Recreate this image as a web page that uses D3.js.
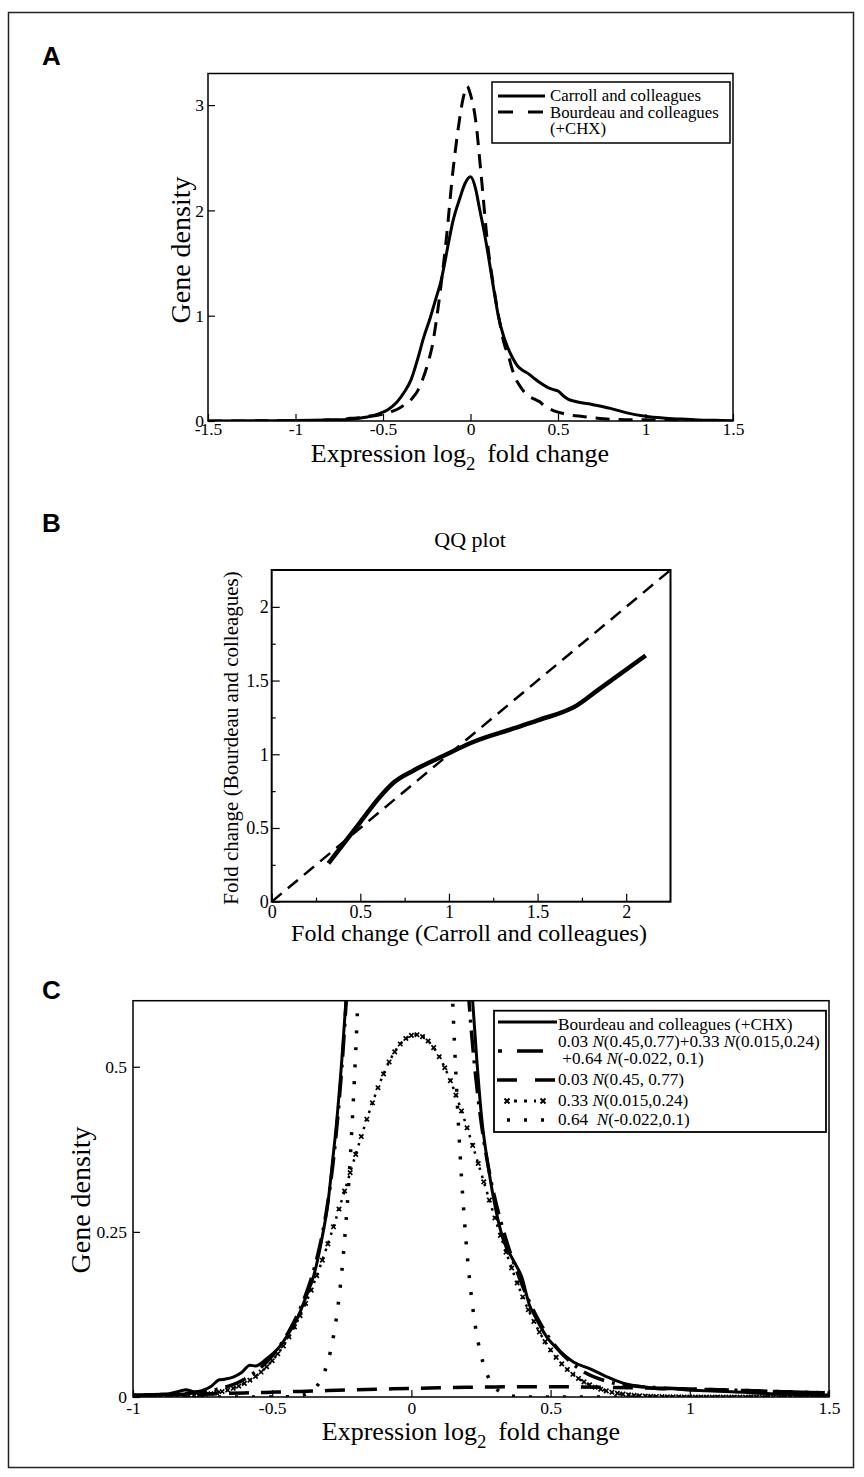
<!DOCTYPE html>
<html><head><meta charset="utf-8">
<script src="https://cdn.jsdelivr.net/npm/d3@7"></script>
<style>body{margin:0;background:#fff}</style>
</head><body>
<svg id="chart" width="864" height="1477" xmlns="http://www.w3.org/2000/svg"></svg>
<script>
// ---------------- DATA ----------------
// Panel A: densities of log2 fold change
const carrollX = [-1.5,-1.2,-1.0,-0.9,-0.8,-0.7,-0.6,-0.52,-0.47,-0.42,-0.38,-0.34,-0.3,-0.27,-0.23,-0.2,-0.17,-0.12,-0.1,-0.06,-0.03,0,0.03,0.05,0.08,0.1,0.13,0.16,0.19,0.21,0.24,0.27,0.3,0.33,0.36,0.4,0.44,0.47,0.5,0.53,0.56,0.6,0.7,0.8,0.9,1.0,1.1,1.2,1.3,1.4,1.5];
const carrollY = [0.0,0.002,0.004,0.006,0.01,0.015,0.035,0.07,0.11,0.18,0.27,0.39,0.6,0.78,0.98,1.15,1.32,1.74,1.9,2.12,2.26,2.32,2.2,2.03,1.78,1.59,1.28,0.99,0.8,0.71,0.6,0.52,0.48,0.45,0.41,0.36,0.32,0.30,0.285,0.24,0.205,0.185,0.155,0.12,0.075,0.045,0.028,0.018,0.01,0.006,0.003];
const bourdeauX = [-1.5,-1.3,-1.1,-1.0,-0.95,-0.9,-0.87,-0.83,-0.81,-0.78,-0.75,-0.72,-0.69,-0.67,-0.64,-0.61,-0.58,-0.56,-0.52,-0.48,-0.44,-0.41,-0.38,-0.35,-0.32,-0.30,-0.285,-0.27,-0.25,-0.235,-0.22,-0.2,-0.17,-0.14,-0.1,-0.07,-0.04,-0.02,0,0.03,0.06,0.1,0.13,0.16,0.19,0.22,0.235,0.252,0.276,0.306,0.33,0.366,0.396,0.426,0.438,0.486,0.534,0.582,0.64,0.70,0.76,0.84,0.90,0.94,0.98,1.06,1.15,1.29,1.5];
const bourdeauY = [0.001,0.001,0.002,0.003,0.003,0.004,0.005,0.009,0.011,0.008,0.010,0.016,0.026,0.027,0.030,0.037,0.048,0.047,0.058,0.073,0.097,0.119,0.150,0.185,0.243,0.293,0.35,0.41,0.51,0.60,0.70,0.90,1.27,1.70,2.38,2.78,3.08,3.18,3.1,2.85,2.35,1.65,1.30,1.00,0.75,0.60,0.51,0.424,0.349,0.278,0.238,0.207,0.182,0.137,0.127,0.091,0.069,0.053,0.043,0.031,0.021,0.015,0.012,0.013,0.011,0.0095,0.008,0.005,0.003];
const xTicksA = [-1.5,-1,-0.5,0,0.5,1,1.5];
const yTicksA = [0,1,2,3];

// Panel B: QQ plot
const qqX = [0.32,0.5,0.61,0.69,0.8,0.97,1.14,1.365,1.5,1.72,1.84,2.11];
const qqY = [0.26,0.54,0.71,0.81,0.89,0.99,1.085,1.175,1.23,1.33,1.435,1.67];
const refX = [0,2.25];
const refY = [0,2.25];
const ticksB = [0,0.5,1,1.5,2];
const minorB = [0.25,0.75,1.25,1.75];

// Panel C: mixture fit
const comp1X = [-1.0,-0.9,-0.8,-0.7,-0.6,-0.5,-0.4,-0.3,-0.2,-0.1,0,0.1,0.2,0.3,0.4,0.5,0.6,0.7,0.8,0.9,1.0,1.1,1.2,1.3,1.4,1.5];
const comp1Y = [0.0026,0.0033,0.0042,0.0051,0.0061,0.0073,0.0085,0.0097,0.0109,0.0120,0.0131,0.0140,0.0147,0.0153,0.0155,0.0155,0.0153,0.0147,0.0140,0.0131,0.0120,0.0109,0.0097,0.0085,0.0073,0.0061];
// 0.33 N(0.015,0.24) sampled every 0.02 from -1 to 1.5
const comp2Y = [0,0,0.0001,0.0002,0.0003,0.0004,0.0005,0.0007,0.001,0.0013,
  0.0017,0.0023,0.003,0.0039,0.005,0.0065,0.0083,0.0105,0.0132,0.0166,
  0.0206,0.0254,0.0311,0.0378,0.0458,0.0549,0.0654,0.0774,0.0910,0.1062,
  0.1230,0.1416,0.1618,0.1837,0.2071,0.2318,0.2577,0.2846,0.3119,0.3397,
  0.3673,0.3943,0.4206,0.4454,0.4683,0.4891,0.5073,0.5225,0.5344,0.5428,
  0.5475,0.5485,0.5456,0.5390,0.5289,0.5152,0.4985,0.4790,0.4571,0.4331,
  0.4076,0.3809,0.3535,0.3258,0.2982,0.2711,0.2447,0.2193,0.1953,0.1726,
  0.1515,0.1321,0.1144,0.0983,0.0839,0.0712,0.0600,0.0501,0.0416,0.0344,
  0.0281,0.0229,0.0185,0.0148,0.0118,0.0093,0.0073,0.0057,0.0044,0.0034,
  0.0026,0.0020,0.0015,0.0011,0.0008,0.0006,0.0004,0.0003,0.0002,0.0001,
  0,0,0,0,0,0,0,0,0,0,0,0,0,0,0,0,0,0,0,0,0,0,0,0,0,0];
const comp2X = comp2Y.map((v, i) => +(-1 + i * 0.02).toFixed(2));
// 0.64 N(-0.022,0.1)
const comp3Y = [0,0.0001,0.0002,0.0004,0.0009,0.0020,0.0042,0.0084,0.0163,0.0301,0.0536,0.0916,0.1504,0.2372,0.3596,0.5236,0.7328,0.9853,1.2731,1.5797,1.8835,2.1580,2.3752,2.5121,2.5527,2.4922,2.3377,2.1067,1.8243,1.5176,1.2130,0.9317,0.6873,0.4874,0.3319,0.2173,0.1366,0.0825,0.0479,0.0267,0.0143,0.0074,0.0036,0.0017,0.0008,0.0003,0.0001,0,0];
const comp3X = [-1].concat(d3.range(47).map(i => +(-0.48 + i * 0.02).toFixed(2)), [1.5]);
// mixture sum
const mixX = [-1.0,-0.9,-0.8,-0.7,-0.6,-0.5,-0.48,-0.46,-0.44,-0.42,-0.40,-0.38,-0.36,-0.34,-0.32,-0.30,-0.28,-0.26,-0.24,-0.22,-0.20,-0.18,-0.16,-0.14,-0.12,-0.10,-0.08,-0.06,-0.04,-0.02,0,0.02,0.04,0.06,0.08,0.10,0.12,0.14,0.16,0.18,0.20,0.22,0.24,0.26,0.28,0.30,0.32,0.34,0.36,0.38,0.40,0.42,0.44,0.46,0.48,0.50,0.6,0.7,0.8,0.9,1.0,1.1,1.2,1.3,1.4,1.5];
const mixY = [0.0027,0.0037,0.0059,0.0116,0.0267,0.0622,0.0729,0.0853,0.0994,0.1153,0.1335,0.1545,0.1791,0.2092,0.2466,0.2951,0.3592,0.4452,0.5595,0.7099,0.9018,1.1382,1.4172,1.7301,2.0598,2.3846,2.6776,2.9102,3.0592,3.1084,3.0528,2.8995,2.6658,2.3770,2.0604,1.7422,1.4444,1.1806,0.9590,0.7796,0.6396,0.5323,0.4509,0.3887,0.3400,0.3006,0.2674,0.2383,0.2124,0.1889,0.1673,0.1477,0.1299,0.1138,0.0994,0.0867,0.0434,0.0240,0.0166,0.0137,0.0120,0.0109,0.0097,0.0085,0.0073,0.0061];
const xTicksC = [-1,-0.5,0,0.5,1,1.5];
const yTicksC = [0,0.25,0.5];

const legendA = ["Carroll and colleagues", "Bourdeau and colleagues", "(+CHX)"];
const legendC = ["Bourdeau and colleagues (+CHX)",
  "0.03 *N*(0.45,0.77)+0.33 *N*(0.015,0.24)",
  "\u00a0+0.64 *N*(-0.022, 0.1)",
  "0.03 *N*(0.45, 0.77)",
  "0.33 *N*(0.015,0.24)",
  "0.64 \u00a0*N*(-0.022,0.1)"];

// ---------------- DRAWING ----------------
const serif = '"Liberation Serif","Times New Roman",Times,serif';
const sans = '"Liberation Sans",Arial,Helvetica,sans-serif';
const svg = d3.select("#chart");
svg.append("rect").attr("width", 864).attr("height", 1477).attr("fill", "#fff");
svg.append("rect").attr("x", 8.5).attr("y", 12.5).attr("width", 845).attr("height", 1455)
  .attr("fill", "none").attr("stroke", "#222").attr("stroke-width", 1.5);

function label(t, x, y) {
  svg.append("text").attr("x", x).attr("y", y).attr("font-family", sans).attr("font-weight", "bold")
    .attr("font-size", 26).text(t);
}
function frame(xs, ys, sw) {
  const [x0, x1] = xs.range(), [y0, y1] = ys.range();
  svg.append("rect").attr("x", x0).attr("y", y1).attr("width", x1 - x0).attr("height", y0 - y1)
    .attr("fill", "none").attr("stroke", "#000").attr("stroke-width", sw);
}
function clip(id, xs, ys) {
  const [x0, x1] = xs.range(), [y0, y1] = ys.range();
  svg.append("clipPath").attr("id", id).append("rect").attr("x", x0).attr("y", y1)
    .attr("width", x1 - x0).attr("height", y0 - y1);
}
function styleAxis(g, fs) {
  g.attr("font-family", serif).attr("font-size", fs);
  g.select(".domain").remove();
  g.selectAll("text").attr("fill", "#000");
  g.selectAll("line").attr("stroke", "#000").attr("stroke-width", 1.2);
}
function xAxis(xs, ys, ticks, size, pad, fs, fmt) {
  const g = svg.append("g").attr("transform", `translate(0,${ys.range()[0]})`)
    .call(d3.axisBottom(xs).tickValues(ticks).tickSize(-size).tickPadding(pad)
      .tickFormat(fmt === false ? "" : d => String(d)));
  styleAxis(g, fs);
}
function yAxis(xs, ys, ticks, size, pad, fs, fmt) {
  const g = svg.append("g").attr("transform", `translate(${xs.range()[0]},0)`)
    .call(d3.axisLeft(ys).tickValues(ticks).tickSize(-size).tickPadding(pad)
      .tickFormat(fmt === false ? "" : d => String(d)));
  styleAxis(g, fs);
}
function xTitle(x, y, fs) {
  const t = svg.append("text").attr("x", x).attr("y", y).attr("text-anchor", "middle")
    .attr("font-family", serif).attr("font-size", fs);
  t.append("tspan").text("Expression log");
  t.append("tspan").attr("font-size", fs * 0.72).attr("dy", fs * 0.3).text("2");
  t.append("tspan").attr("dy", -fs * 0.3).text("\u00a0\u2009fold change");
}
function yTitle(x, y, fs, txt) {
  svg.append("text").attr("transform", `translate(${x},${y}) rotate(-90)`)
    .attr("text-anchor", "middle").attr("dominant-baseline", "central")
    .attr("font-family", serif).attr("font-size", fs).text(txt);
}
function curve(xs, ys, X, Y, clipId, sw, dash, cap) {
  const ln = d3.line().x(d => xs(d[0])).y(d => ys(d[1])).curve(d3.curveMonotoneX);
  return svg.append("path").attr("d", ln(d3.zip(X, Y))).attr("fill", "none").attr("stroke", "#000")
    .attr("stroke-width", sw).attr("stroke-dasharray", dash || null)
    .attr("stroke-linecap", cap || "butt").attr("stroke-linejoin", "round")
    .attr("clip-path", `url(#${clipId})`);
}

// ===== Panel A =====
label("A", 42, 65);
const ax = d3.scaleLinear().domain([-1.5, 1.5]).range([208, 733]);
const ay = d3.scaleLinear().domain([0, 3.3]).range([421, 73.5]);
clip("clipA", ax, ay);
curve(ax, ay, carrollX, carrollY, "clipA", 3);
curve(ax, ay, bourdeauX, bourdeauY, "clipA", 3, "14,9");
xAxis(ax, ay, xTicksA, 7, 2, 17.5);
yAxis(ax, ay, yTicksA, 7, 4, 17.5);
frame(ax, ay, 1.5);
xTitle(460, 462, 26);
yTitle(180, 250, 28, "Gene density");
// legend A
svg.append("rect").attr("x", 492).attr("y", 82).attr("width", 238).attr("height", 61)
  .attr("fill", "#fff").attr("stroke", "#000").attr("stroke-width", 1.5);
svg.append("line").attr("x1", 498).attr("x2", 545).attr("y1", 96).attr("y2", 96)
  .attr("stroke", "#000").attr("stroke-width", 3);
svg.append("line").attr("x1", 498).attr("x2", 545).attr("y1", 112).attr("y2", 112)
  .attr("stroke", "#000").attr("stroke-width", 3).attr("stroke-dasharray", "15,15");
legendA.forEach((t, i) => {
  svg.append("text").attr("x", 550).attr("y", 101 + i * 16.5).attr("font-family", serif)
    .attr("font-size", 16.8).text(t);
});

// ===== Panel B =====
label("B", 42, 532);
svg.append("text").attr("x", 470).attr("y", 547).attr("text-anchor", "middle")
  .attr("font-family", serif).attr("font-size", 22).text("QQ plot");
const bx = d3.scaleLinear().domain([0, 2.25]).range([271.7, 670.5]);
const by = d3.scaleLinear().domain([0, 2.25]).range([901.7, 570]);
clip("clipB", bx, by);
curve(bx, by, refX, refY, "clipB", 2.5, "13,8");
curve(bx, by, qqX, qqY, "clipB", 4.5);
xAxis(bx, by, ticksB, 8, 4, 18);
xAxis(bx, by, minorB, 4, 4, 18, false);
yAxis(bx, by, ticksB, 8, 3, 18);
yAxis(bx, by, minorB, 4, 3, 18, false);
frame(bx, by, 2);
svg.append("text").attr("x", 469).attr("y", 941).attr("text-anchor", "middle")
  .attr("font-family", serif).attr("font-size", 24).text("Fold change (Carroll and colleagues)");
yTitle(231, 738, 21, "Fold change (Bourdeau and colleagues)");

// ===== Panel C =====
label("C", 42, 999);
const cx = d3.scaleLinear().domain([-1, 1.5]).range([133, 829]);
const cy = d3.scaleLinear().domain([0, 0.6]).range([1397, 1000.7]);
clip("clipC", cx, cy);
curve(cx, cy, bourdeauX, bourdeauY, "clipC", 3);
curve(cx, cy, mixX, mixY, "clipC", 3.5, "3,8,22,8");
curve(cx, cy, comp1X, comp1Y, "clipC", 3.5, "20,12");
curve(cx, cy, comp2X, comp2Y, "clipC", 2.5, "2.5,6");
svg.append("g").attr("clip-path", "url(#clipC)").selectAll("path")
  .data(d3.zip(comp2X, comp2Y)).join("path")
  .attr("transform", d => `translate(${cx(d[0])},${cy(d[1])})`)
  .attr("d", "M-2.2,-2.2L2.2,2.2M-2.2,2.2L2.2,-2.2")
  .attr("stroke", "#000").attr("stroke-width", 1.7).attr("fill", "none");
curve(cx, cy, comp3X, comp3Y, "clipC", 3.5, "3,14");
xAxis(cx, cy, xTicksC, 7, 5, 17.5);
yAxis(cx, cy, yTicksC, 7, 6, 17.5);
frame(cx, cy, 1.5);
xTitle(471, 1440, 26);
yTitle(80, 1200, 28, "Gene density");

// legend C
svg.append("rect").attr("x", 494).attr("y", 1010.7).attr("width", 332).attr("height", 121.3)
  .attr("fill", "#fff").attr("stroke", "#000").attr("stroke-width", 1.8);
const lg = (x1, x2, y, sw, dash) => svg.append("line").attr("x1", x1).attr("x2", x2)
  .attr("y1", y).attr("y2", y).attr("stroke", "#000").attr("stroke-width", sw)
  .attr("stroke-dasharray", dash || null);
lg(498, 557, 1022, 3);
lg(498, 545, 1051, 3.5, "4,15,26,20");
lg(497, 557, 1080, 3.5, "20,18");
lg(514, 536, 1101, 3, "3,7");
[507, 543].forEach(x => svg.append("path").attr("transform", `translate(${x},1101)`)
  .attr("d", "M-2.5,-2.5L2.5,2.5M-2.5,2.5L2.5,-2.5").attr("stroke", "#000").attr("stroke-width", 2));
lg(507, 546, 1120, 3.5, "3,14");
const lcY = [1030, 1047, 1064, 1085, 1106, 1125];
legendC.forEach((t, i) => {
  const tx = svg.append("text").attr("x", 558).attr("y", lcY[i]).attr("font-family", serif)
    .attr("font-size", 17.2);
  t.split("*").forEach((p, j) => {
    tx.append("tspan").attr("font-style", j % 2 ? "italic" : null).text(p);
  });
});
</script>
</body></html>
